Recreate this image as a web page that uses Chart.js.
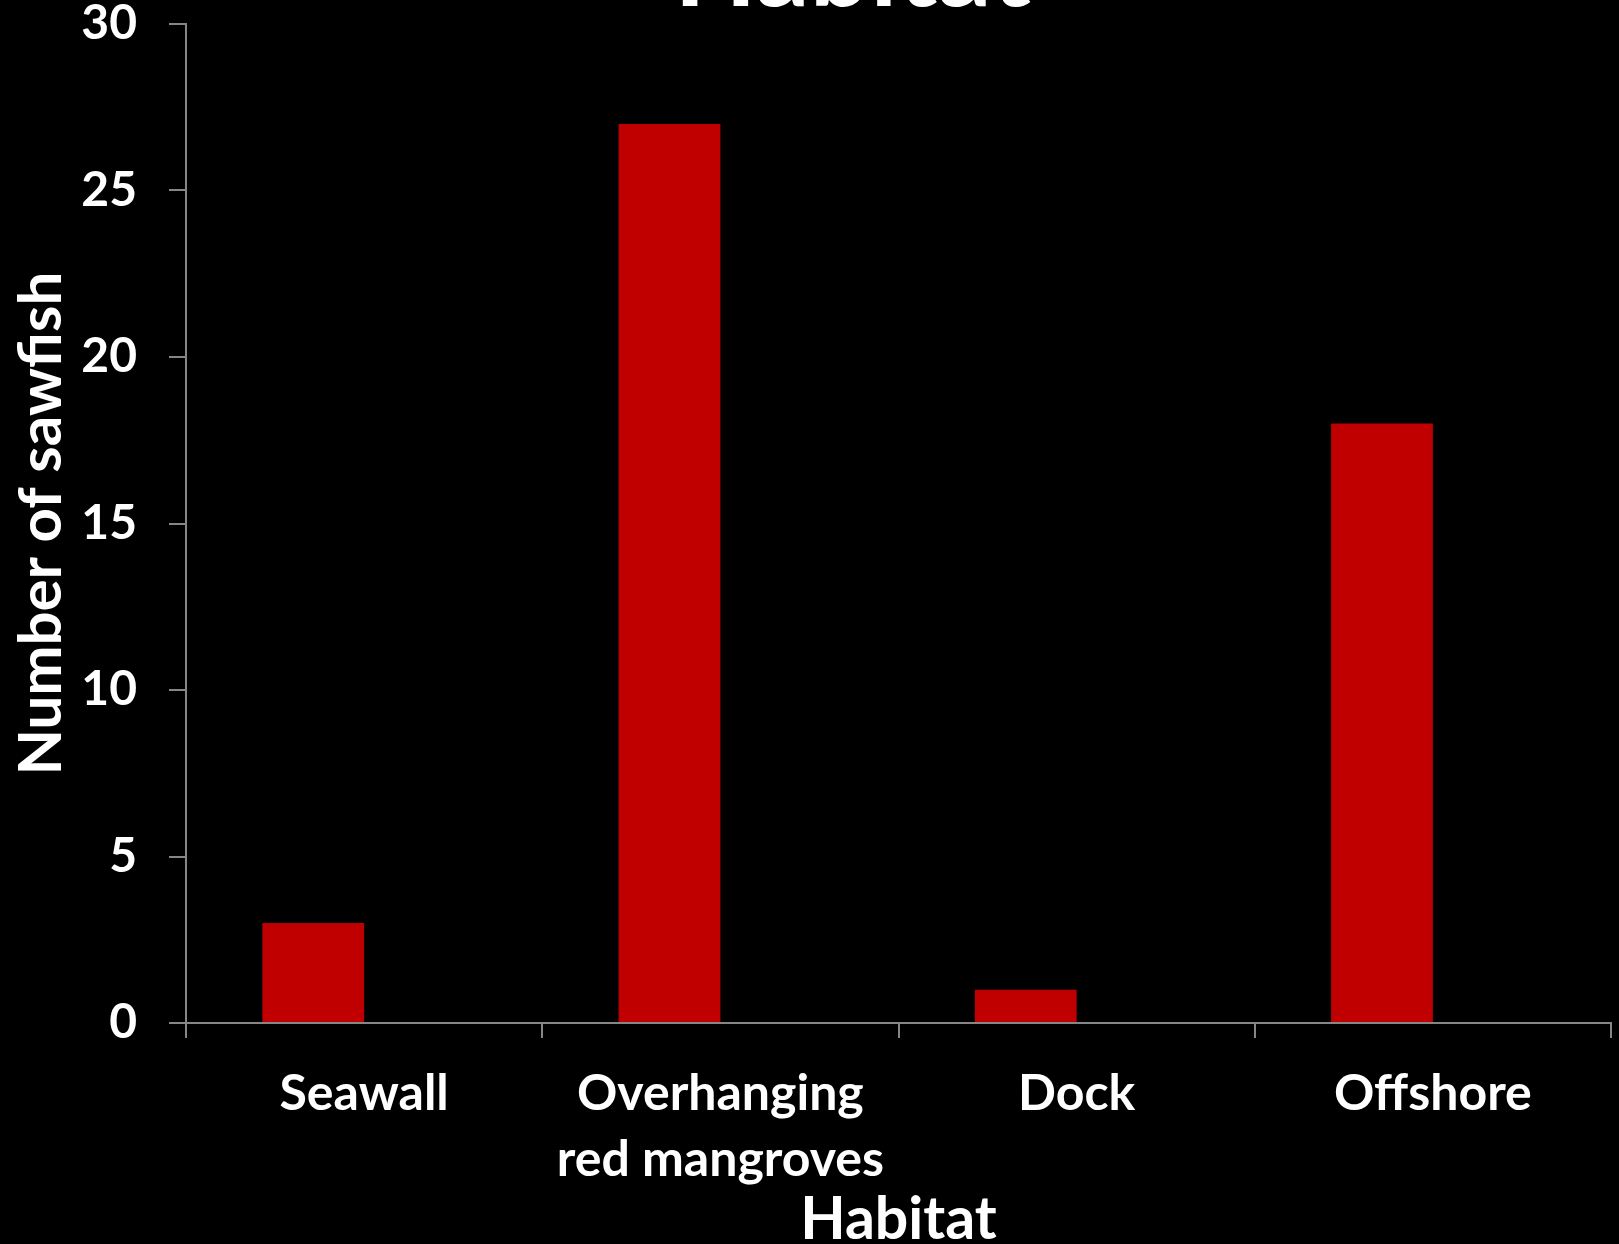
<!DOCTYPE html>
<html>
<head>
<meta charset="utf-8">
<script src="https://cdn.jsdelivr.net/npm/chart.js@4"></script>
<style>
html,body{margin:0;padding:0;background:#000;}
#wrap{width:1619px;height:1244px;position:relative;}
canvas{display:block;}
</style>
</head>
<body>
<div id="wrap"><canvas id="c" width="1619" height="1244"></canvas></div>
<script>
const categories = ["Seawall", ["Overhanging", "red mangroves"], "Dock", "Offshore"];
const sawfishCounts = [3, 27, 1, 18];
const emptySeries = [null, null, null, null];
const yTicks = [0, 5, 10, 15, 20, 25, 30];
const chartTitle = "Habitat";
const xTitle = "Habitat";
const yTitle = "Number of sawfish";

const FONT = "Lato, 'Open Sans', sans-serif";
const AXIS_COLOR = "#868686";

const topTitlePlugin = {
  id: 'topTitle',
  afterDraw(chart) {
    const ctx = chart.ctx;
    const a = chart.chartArea;
    ctx.save();
    ctx.font = "bold 107px " + FONT;
    ctx.fillStyle = "#ffffff";
    ctx.textAlign = "center";
    ctx.textBaseline = "alphabetic";
    ctx.fillText(chartTitle, (a.left + a.right) / 2 - 46, 6);
    ctx.restore();
  }
};

new Chart(document.getElementById('c'), {
  type: 'bar',
  data: {
    labels: categories,
    datasets: [
      { label: 'Number of sawfish', data: sawfishCounts, backgroundColor: '#C00000', borderWidth: 0 },
      { label: '', data: emptySeries, backgroundColor: '#C00000', borderWidth: 0 }
    ]
  },
  options: {
    responsive: false,
    animation: false,
    events: [],
    layout: { padding: { top: 24, right: 8, left: 0, bottom: 0 } },
    plugins: { legend: { display: false }, tooltip: { enabled: false }, title: { display: false } },
    datasets: { bar: { categoryPercentage: 2 / 3.5, barPercentage: 1.0 } },
    scales: {
      x: {
        offset: true,
        grid: { display: true, offset: true, drawOnChartArea: false, drawTicks: true, tickLength: 15, color: AXIS_COLOR, lineWidth: 2 },
        border: { display: true, color: AXIS_COLOR, width: 2 },
        ticks: { color: '#ffffff', font: { family: FONT, weight: 'bold', size: 50, lineHeight: 1.32 }, padding: 23, maxRotation: 0, autoSkip: false },
        title: { display: true, text: xTitle, color: '#ffffff', font: { family: FONT, weight: 'bold', size: 59, lineHeight: 1.0 }, padding: { top: 0, bottom: -5 } },
        afterFit(scale) { scale.height = 221; scale.paddingLeft = 0; scale.paddingRight = 0; }
      },
      y: {
        min: 0, max: 30,
        afterBuildTicks(scale) { scale.ticks = yTicks.map(v => ({ value: v })); },
        grid: { display: true, drawOnChartArea: false, drawTicks: true, tickLength: 17, color: AXIS_COLOR, lineWidth: 2 },
        border: { display: true, color: AXIS_COLOR, width: 2 },
        ticks: { color: '#ffffff', font: { family: FONT, weight: 'bold', size: 48 }, padding: 32 },
        title: { display: true, text: yTitle, color: '#ffffff', font: { family: FONT, weight: 'bold', size: 60, lineHeight: 1.0 }, padding: { top: 12, bottom: 0 } },
        afterFit(scale) { scale.width = 186; scale.paddingTop = 0; scale.paddingBottom = 0; }
      }
    }
  },
  plugins: [topTitlePlugin]
});
</script>
</body>
</html>
